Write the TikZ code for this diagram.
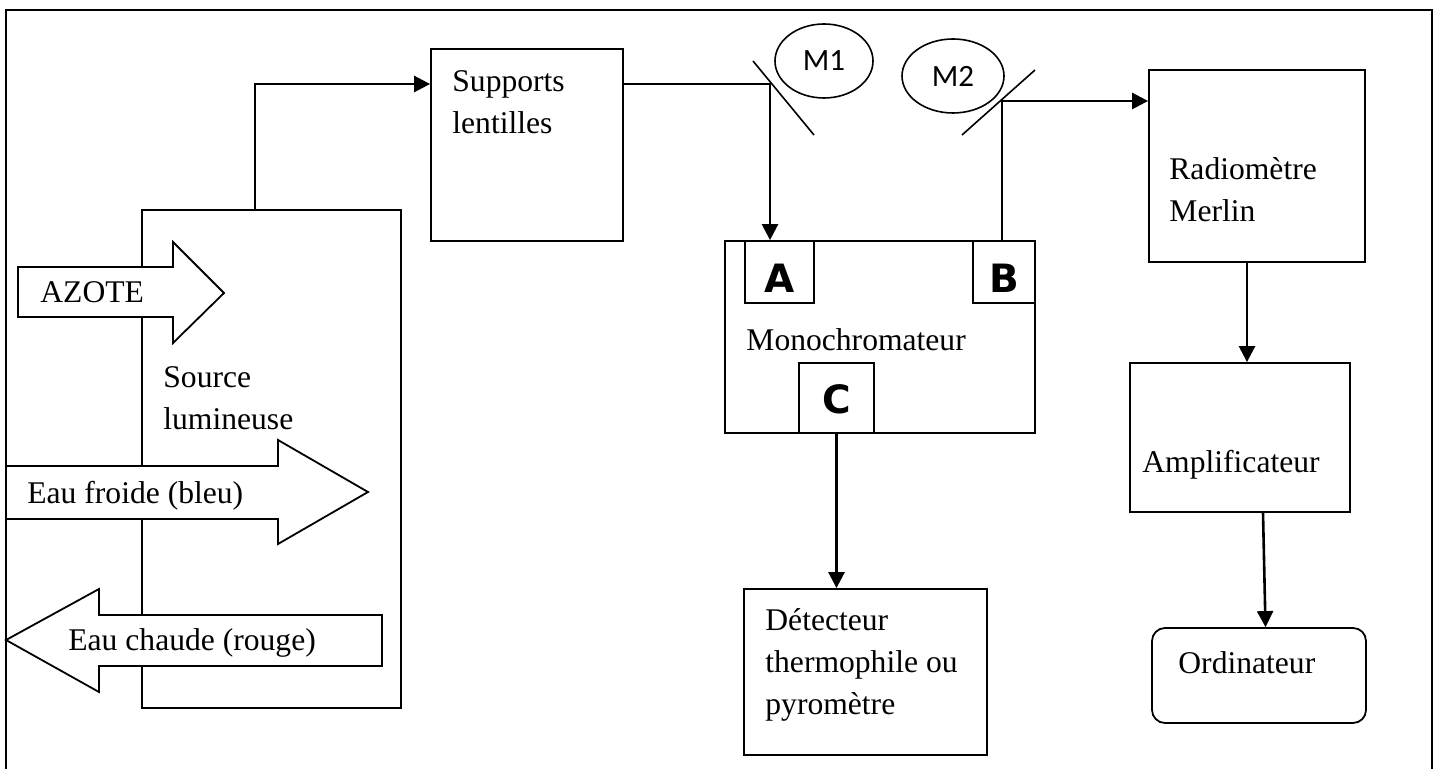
\documentclass[tikz,border=0pt]{standalone}
\usepackage{fontspec}
\setmainfont{Liberation Serif}
\newfontfamily\letterfont{DejaVu Sans}
\newfontfamily\mirrorfont{Carlito}
\usetikzlibrary{arrows.meta,fit,shapes.geometric}
\tikzset{
    box/.style = {draw, line width=0.9pt, rectangle, inner sep=0pt},
    conn/.style = {line width=1.3pt, -{Triangle[length=8pt,width=8pt]}},
    txt/.style = {anchor=base west, inner sep=0pt, align=left, font=\fontsize{15.8}{21}\selectfont},
    letter/.style = {anchor=base, inner sep=0pt, font=\letterfont\bfseries\fontsize{19.5}{19.5}\selectfont},
    mirror/.style = {draw, ellipse, line width=0.8pt, inner sep=0pt, minimum height=37pt, font=\mirrorfont\fontsize{15.5}{15.5}\selectfont},
    flow/.style = {draw, line width=0.9pt, fill=white},
}
\begin{document}
\begin{tikzpicture}[x=0.5pt, y=-0.5pt]
\useasboundingbox (0,0) rectangle (1439,769);
% frame
\draw[line width=0.9pt] (6,769) -- (6,10) -- (1432,10) -- (1432,769);

% source and its flows
\node[box, fit={(142,210) (401,708)}] (src) {};
\draw[flow] (18,267) -- (173,267) -- (173,242) -- (224,293) -- (173,343) -- (173,317) -- (18,317) -- cycle;
\draw[flow] (6,466) -- (278,466) -- (278,440) -- (368,492) -- (278,544) -- (278,519) -- (6,519) -- cycle;
\draw[flow] (382,615) -- (99,615) -- (99,589) -- (6,640) -- (99,692) -- (99,666) -- (382,666) -- cycle;
\node[txt] (azote) at (40,303) {AZOTE};
\node[txt] (froide) at (27,503) {Eau froide (bleu)};
\node[txt] (chaude) at (68,650) {Eau chaude (rouge)};
\node[txt] (srctxt) at (163,430) {Source\\lumineuse};

% boxes
\node[box, fit={(431,49) (623,241)}] (sup) {};
\node[txt] (suptxt) at (452,134) {Supports\\lentilles};
\node[box, fit={(725,241) (1035,433)}] (mono) {};
\node[box, fit={(745,241) (814,303)}] (slotA) {};
\node[box, fit={(973,241) (1035,303)}] (slotB) {};
\node[box, fit={(799,363) (874,433)}] (slotC) {};
\node[letter] (letA) at (780,293) {A};
\node[letter] (letB) at (1004,293) {B};
\node[letter] (letC) at (837,414) {C};
\node[txt] (monotxt) at (746,351) {Monochromateur};
\node[box, fit={(744,589) (987,755)}] (det) {};
\node[txt] (dettxt) at (765,714) {Détecteur\\thermophile ou\\pyromètre};
\node[box, fit={(1149,70) (1365,262)}] (rad) {};
\node[txt] (radtxt) at (1169,222) {Radiomètre\\Merlin};
\node[box, fit={(1130,363) (1350,512)}] (amp) {};
\node[txt] (amptxt) at (1142,473) {Amplificateur};
\node[box, rounded corners=6.5pt, fit={(1152,628) (1366,723)}] (ordi) {};
\node[txt] (orditxt) at (1178,673) {Ordinateur};

% mirrors
\node[mirror, minimum width=49pt] (m1) at (824,61) {M1};
\node[mirror, minimum width=51pt] (m2) at (953,76) {M2};
\draw[line width=0.8pt] (753,61) -- (814,135);
\draw[line width=0.8pt] (962,135) -- (1035,70);
\coordinate (bend) at (255,84);
\coordinate (m1hit) at (770,84);
\coordinate (m2hit) at (1002,101);

% beam and signal paths
\draw[conn] (src.north -| bend) -- (bend) -- (bend -| sup.west);
\draw[conn] (m1hit -| sup.east) -- (m1hit) -- (m1hit |- mono.north);
\draw[conn] (m2hit |- mono.north) -- (m2hit) -- (m2hit -| rad.west);
\draw[conn] (slotC.south) -- (slotC.south |- det.north);
\draw[conn] ([xshift=-5pt]rad.south) -- ([xshift=-5pt]rad.south |- amp.north);
\draw[conn] ([xshift=11.5pt]amp.south) -- ([xshift=3.25pt]ordi.north);
\end{tikzpicture}
\end{document}
